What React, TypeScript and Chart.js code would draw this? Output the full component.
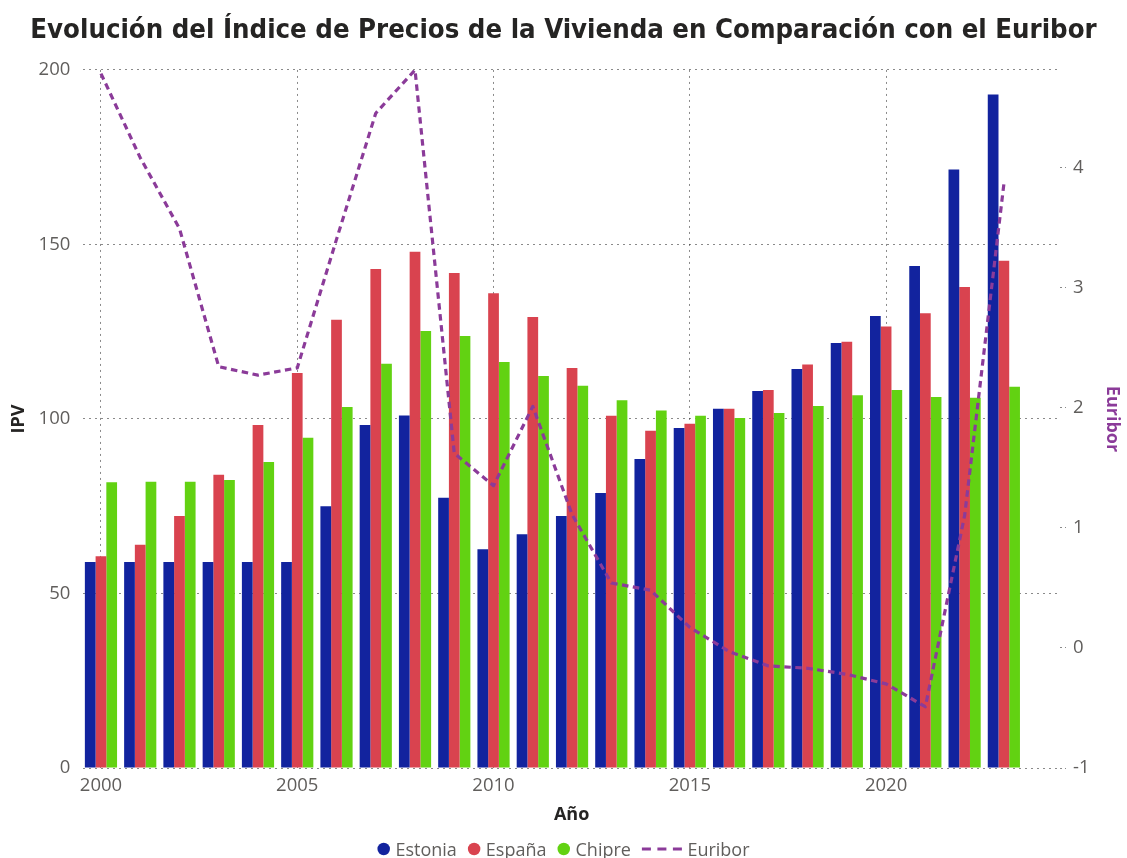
import { useEffect, useRef } from 'react';
import { Chart, registerables } from 'chart.js';

Chart.register(...registerables);

// ---------- data ----------
const years = [2000, 2001, 2002, 2003, 2004, 2005, 2006, 2007, 2008, 2009, 2010, 2011, 2012, 2013, 2014, 2015, 2016, 2017, 2018, 2019, 2020, 2021, 2022, 2023];
const estonia = [59, 59, 59, 59, 59, 59, 75, 98.3, 101, 77.4, 62.7, 67, 72.2, 78.8, 88.5, 97.4, 102.9, 108, 114.3, 121.8, 129.5, 143.8, 171.5, 193];
const espana = [60.7, 64, 72.2, 84, 98.3, 113.2, 128.4, 143, 147.9, 141.8, 136, 129.2, 114.6, 100.9, 96.6, 98.6, 102.9, 108.3, 115.6, 122.1, 126.5, 130.3, 137.8, 145.3];
const chipre = [81.9, 82, 82, 82.5, 87.7, 94.6, 103.4, 115.8, 125.2, 123.8, 116.3, 112.3, 109.5, 105.4, 102.4, 100.9, 100.3, 101.7, 103.7, 106.8, 108.3, 106.3, 106.1, 109.2];
const euribor = [4.78, 4.08, 3.49, 2.34, 2.27, 2.33, 3.4, 4.45, 4.81, 1.62, 1.35, 2.01, 1.11, 0.54, 0.48, 0.17, -0.03, -0.15, -0.17, -0.22, -0.3, -0.49, 1.1, 3.86];

const yearTicks = [2000, 2005, 2010, 2015, 2020];
const ipvTicks = [0, 50, 100, 150, 200];
const euriborTicks = [-1, 0, 1, 2, 3, 4];

const seriesNames = ['Estonia', 'España', 'Chipre', 'Euribor'];
const TITLE = 'Evolución del Índice de Precios de la Vivienda en Comparación con el Euribor';
const X_TITLE = 'Año';
const Y_TITLE = 'IPV';
const Y2_TITLE = 'Euribor';

// ---------- styles ----------
const BLUE = '#12239E';
const RED = '#D9434F';
const GREEN = '#62D212';
const PURPLE = '#8B3B99';
const TICK_COLOR = '#605E5C';
const DARK = '#252423';
const GRID = 'rgba(60,60,60,0.6)';
const SANS = '"Open Sans", "Noto Sans", sans-serif';

const legendPlugin = {
  id: 'bottomLegend',
  afterDraw(chart: any) {
    const { ctx, width } = chart;
    const ds = chart.data.datasets;
    ctx.save();
    ctx.font = `18px ${SANS}`;
    ctx.textBaseline = 'alphabetic';
    const markerW = (d: any) => (d.type === 'line' ? 40 : 12.5);
    const gapText = 5.5;
    const gapItem = 11;
    const items = ds.map((d: any) => ({ d, w: markerW(d) + gapText + ctx.measureText(d.label).width }));
    const total = items.reduce((a: number, it: any) => a + it.w, 0) + gapItem * (items.length - 1);
    let x = width / 2 - total / 2;
    const cy = 849;
    items.forEach(({ d, w }: any) => {
      if (d.type === 'line') {
        ctx.strokeStyle = d.borderColor;
        ctx.lineWidth = 3;
        ctx.setLineDash([9, 6.5]);
        ctx.beginPath();
        ctx.moveTo(x, cy);
        ctx.lineTo(x + 40, cy);
        ctx.stroke();
        ctx.setLineDash([]);
      } else {
        ctx.fillStyle = d.backgroundColor;
        ctx.beginPath();
        ctx.arc(x + 6.25, cy, 6.25, 0, Math.PI * 2);
        ctx.fill();
      }
      ctx.fillStyle = TICK_COLOR;
      ctx.fillText(d.label, x + markerW(d) + gapText, 856);
      x += w + gapItem;
    });
    ctx.restore();
  },
};

export default function App() {
  const ref = useRef<HTMLCanvasElement>(null);

  useEffect(() => {
    if (!ref.current) return;
    const pts = (arr: number[]) => years.map((y, i) => ({ x: y, y: arr[i] }));
    const barDs = (label: string, arr: number[], color: string) => ({
      type: 'bar' as const,
      label,
      data: pts(arr),
      backgroundColor: color,
      borderWidth: 0,
      barPercentage: 1,
      categoryPercentage: 0.82,
      yAxisID: 'y',
      order: 0,
    });
    const chart = new Chart(ref.current, {
      type: 'bar',
      data: {
        datasets: [
          barDs(seriesNames[0], estonia, BLUE),
          barDs(seriesNames[1], espana, RED),
          barDs(seriesNames[2], chipre, GREEN),
          {
            type: 'line' as const,
            label: seriesNames[3],
            data: pts(euribor),
            borderColor: PURPLE,
            backgroundColor: PURPLE,
            borderWidth: 3.2,
            borderDash: [6.5, 4.5],
            borderJoinStyle: 'round',
            pointRadius: 0,
            tension: 0,
            fill: false,
            yAxisID: 'y1',
            order: -1,
          } as any,
        ],
      },
      options: {
        animation: false,
        responsive: false,
        events: [],
        layout: { padding: { left: 0, right: 0, top: 0, bottom: 28 } },
        plugins: {
          legend: { display: false },
          tooltip: { enabled: false },
          title: {
            display: true,
            text: TITLE,
            color: DARK,
            font: { family: '"DejaVu Sans Condensed", "DejaVu Sans", sans-serif', weight: 'bold', size: 27.3 },
            padding: { top: 15, bottom: 22.2 },
          },
        },
        scales: {
          x: {
            type: 'linear',
            min: 1999.55,
            max: 2024.43,
            offset: false,
            afterBuildTicks: (s: any) => {
              s.ticks = yearTicks.map((v) => ({ value: v }));
            },
            afterFit: (s: any) => {
              s.height = 62;
            },
            ticks: {
              callback: (v: any) => String(v),
              color: TICK_COLOR,
              font: { family: SANS, size: 18.5 },
              padding: 7,
              maxRotation: 0,
              autoSkip: false,
            },
            grid: { color: GRID, lineWidth: 1, drawTicks: false, offset: false },
            border: { display: false, dash: [2, 4] },
            title: {
              display: true,
              text: X_TITLE,
              color: DARK,
              font: { family: SANS, weight: 'bold', size: 18 },
              padding: { top: 0, bottom: 4 },
            },
          },
          y: {
            type: 'linear',
            position: 'left',
            min: 0,
            max: 200,
            afterBuildTicks: (s: any) => {
              s.ticks = ipvTicks.map((v) => ({ value: v }));
            },
            afterFit: (s: any) => {
              s.width = 83.3;
            },
            ticks: { color: TICK_COLOR, font: { family: SANS, size: 18.5 }, padding: 13 },
            grid: { color: GRID, lineWidth: 1, drawTicks: false },
            border: { display: false, dash: [2, 4] },
            title: {
              display: true,
              text: Y_TITLE,
              color: DARK,
              font: { family: SANS, weight: 'bold', size: 18 },
              padding: { top: 8, bottom: 0 },
            },
          },
          y1: {
            type: 'linear',
            position: 'right',
            min: -1,
            max: 4.81,
            afterBuildTicks: (s: any) => {
              s.ticks = euriborTicks.map((v) => ({ value: v }));
            },
            afterFit: (s: any) => {
              s.width = 67;
            },
            ticks: { color: TICK_COLOR, font: { family: SANS, size: 18.5 }, padding: 7 },
            grid: {
              drawOnChartArea: false,
              drawTicks: true,
              tickLength: 6,
              tickColor: GRID,
              tickWidth: 1,
              tickBorderDash: [2, 3],
            },
            border: { display: false },
            title: {
              display: true,
              text: Y2_TITLE,
              color: PURPLE,
              font: { family: SANS, weight: 'bold', size: 18 },
              padding: { top: 4, bottom: 0 },
            },
          },
        },
      } as any,
      plugins: [legendPlugin],
    });
    return () => chart.destroy();
  }, []);

  return (
    <div style={{ position: 'absolute', left: 0, top: 0, width: 1127, height: 858, background: '#fff' }}>
      <canvas ref={ref} width={1127} height={858} style={{ display: 'block' }} />
    </div>
  );
}
